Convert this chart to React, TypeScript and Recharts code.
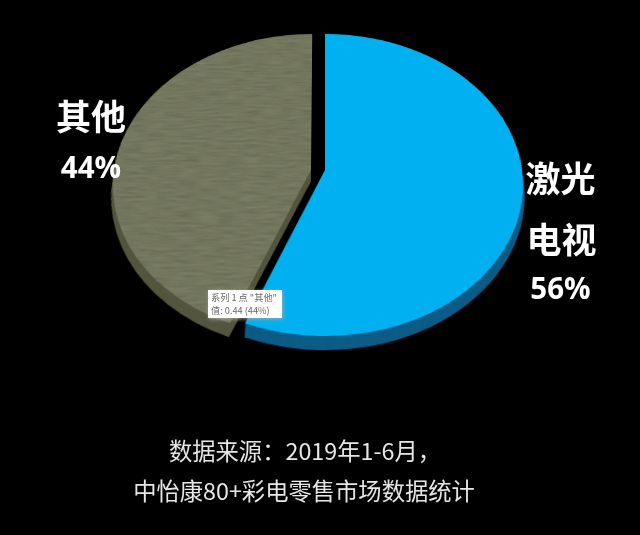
import { PieChart, Pie, Cell } from "recharts";

const categories = ["激光电视", "其他"];
const shares = [56, 44];
const wallLayers = [15, 14, 13, 12, 11, 10, 9, 8, 7, 6, 5, 4, 3, 2, 1];
const footerLines = ["数据来源：2019年1-6月，", "中怡康80+彩电零售市场数据统计"];
const tipLines = ['系列 1 点 "其他"', "值: 0.44 (44%)"];

const data = categories.map((name, i) => ({ name, value: shares[i] }));

const BLUE = "#00b0f0";
const BLUE_WALL = "#0d5c86";
const OLIVE = "#787c62";
const OLIVE_WALL = "#54563f";

const cjk = '"Noto Sans CJK SC", "Noto Sans", sans-serif';
const latin = '"Open Sans", "Noto Sans", sans-serif';

function Label({ x, y, size, text, weight = 700, family = cjk, color = "#fff", w = 120 }: any) {
  return (
    <div
      style={{
        position: "absolute", left: x - w / 2, top: y - size, width: w, height: size * 2,
        lineHeight: `${size * 2}px`, textAlign: "center", fontSize: size, fontWeight: weight,
        fontFamily: family, color, whiteSpace: "nowrap",
      }}
    >
      {text}
    </div>
  );
}

function slicePie(key: string, index: number, cx: number, cy: number, fill: string, textured = false) {
  return (
    <Pie
      key={key}
      data={data}
      dataKey="value"
      cx={cx}
      cy={cy}
      innerRadius={0}
      outerRadius={197}
      startAngle={90}
      endAngle={-270}
      stroke="none"
      isAnimationActive={false}
      labelLine={false}
    >
      {data.map((d, i) => (
        <Cell
          key={d.name}
          fill={i === index ? fill : "transparent"}
          stroke="none"
          style={textured && i === index ? { filter: "url(#paper)" } : undefined}
        />
      ))}
    </Pie>
  );
}

export default function App() {
  return (
    <div style={{ position: "fixed", left: 0, top: 0, width: 640, height: 535, background: "#000", overflow: "hidden" }}>
      <div
        style={{
          position: "absolute", left: 0, top: -60, width: 640, height: 640,
          transform: "perspective(1293px) rotateX(40.6deg)", transformOrigin: "325px 230px",
        }}
      >
        <PieChart width={640} height={640} margin={{ top: 0, right: 0, bottom: 0, left: 0 }}>
          <defs>
            <filter id="paper" x="0" y="0" width="100%" height="100%">
              <feTurbulence type="fractalNoise" baseFrequency="0.05 0.3" numOctaves={3} seed={4} result="noise" />
              <feColorMatrix
                in="noise"
                type="matrix"
                values="0 0 0 0 0  0 0 0 0 0  0 0 0 0 0  0.45 0 0 0 -0.14"
                result="shade"
              />
              <feComposite in="shade" in2="SourceGraphic" operator="in" result="clipped" />
              <feMerge>
                <feMergeNode in="SourceGraphic" />
                <feMergeNode in="clipped" />
              </feMerge>
            </filter>
          </defs>
          {wallLayers.map((d) => slicePie(`olive-wall-${d}`, 1, 311, 230 + d, OLIVE_WALL))}
          {wallLayers.map((d) => slicePie(`blue-wall-${d}`, 0, 325, 230 + d, BLUE_WALL))}
          {slicePie("olive-top", 1, 311, 230, OLIVE, true)}
          {slicePie("blue-top", 0, 325, 230, BLUE)}
        </PieChart>
      </div>

      <Label x={91} y={115} size={35} text="其他" />
      <Label x={91} y={166} size={29.5} text="44%" family={latin} />
      <Label x={560.5} y={177} size={35} text="激光" />
      <Label x={561.5} y={238} size={35} text="电视" />
      <Label x={560.5} y={287} size={29.5} text="56%" family={latin} />

      <Label x={305} y={450} size={23.3} text={footerLines[0]} weight={400} color="#e6e6e6" w={400} />
      <Label x={304} y={490} size={23.3} text={footerLines[1]} weight={400} color="#e6e6e6" w={500} />

      <div
        style={{
          position: "absolute", left: 208, top: 290, width: 74, height: 28, boxSizing: "border-box",
          background: "#fff", boxShadow: "1px 1px 4px rgba(170,170,170,0.9)", color: "#6a6a6a",
          fontFamily: cjk, fontSize: 9.2, lineHeight: "13px", padding: "1px 3px", whiteSpace: "nowrap",
        }}
      >
        <div>{tipLines[0]}</div>
        <div>{tipLines[1]}</div>
      </div>
    </div>
  );
}
